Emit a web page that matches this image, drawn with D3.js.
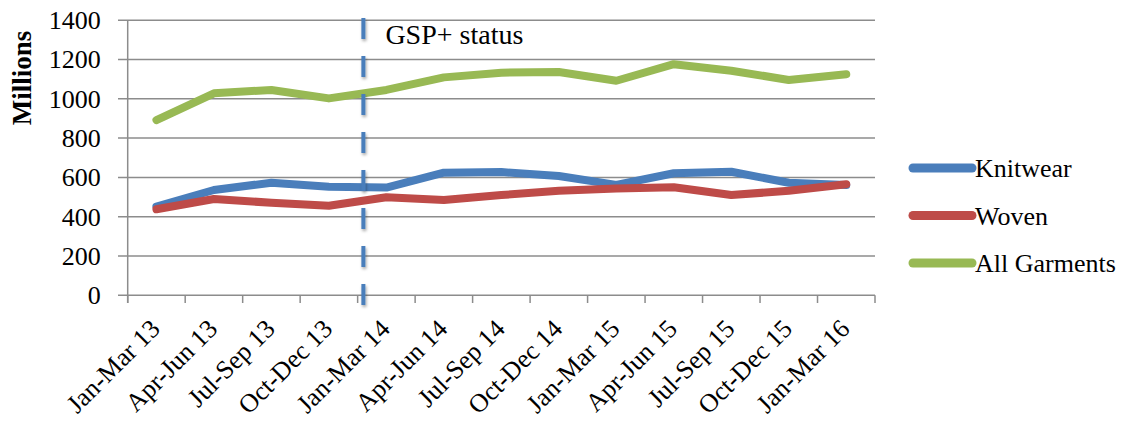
<!DOCTYPE html>
<html lang="en">
<head>
<meta charset="UTF-8">
<script src="https://cdnjs.cloudflare.com/ajax/libs/d3/7.8.5/d3.min.js"></script>
<style>
  html,body{margin:0;padding:0;background:#fff;}
  svg{display:block;font-family:'Liberation Serif',serif;}
  .grid line{stroke:#8c8c8c;stroke-width:1.5px;}
  .series{fill:none;stroke-width:8px;stroke-linejoin:round;stroke-linecap:round;}
</style>
</head>
<body>
<div id="chart"></div>
<script>
// quarters on the x axis
var quarters = ["Jan-Mar 13","Apr-Jun 13","Jul-Sep 13","Oct-Dec 13","Jan-Mar 14","Apr-Jun 14",
  "Jul-Sep 14","Oct-Dec 14","Jan-Mar 15","Apr-Jun 15","Jul-Sep 15","Oct-Dec 15","Jan-Mar 16"];

// values in millions
var knitwear    = [451, 536, 573, 553, 548, 624, 627, 607, 562, 621, 629, 573, 561];
var woven       = [438, 490, 471, 456, 499, 485, 510, 532, 543, 550, 510, 532, 565];
var allGarments = [892, 1028, 1045, 1002, 1045, 1109, 1133, 1136, 1092, 1176, 1143, 1096, 1125];

var yTicks = [0, 200, 400, 600, 800, 1000, 1200, 1400];
var seriesNames = ["Knitwear", "Woven", "All Garments"];
var gspIndex = 3.6; // GSP+ marker sits a bit after Oct-Dec 13

var width = 1125, height = 423;
var colors = ["#4a7ebb", "#be4b48", "#98b954"];
var data = [knitwear, woven, allGarments];

var svg = d3.select("#chart").append("svg")
  .attr("width", width)
  .attr("height", height);

var x = d3.scaleBand().domain(quarters).range([127.7, 875]).padding(0);
var y = d3.scaleLinear().domain([0, 1400]).range([295.3, 20.2]);
var xi = d3.scaleLinear().domain([0, quarters.length - 1])
  .range([x(quarters[0]) + x.bandwidth() / 2, x(quarters[quarters.length - 1]) + x.bandwidth() / 2]);

// gridlines + y labels
var grid = svg.append("g").attr("class", "grid");
grid.selectAll("line").data(yTicks).enter().append("line")
  .attr("x1", 118).attr("x2", 875)
  .attr("y1", function(d){ return y(d); })
  .attr("y2", function(d){ return y(d); });

svg.append("g")
  .attr("transform", "translate(127.7,0)")
  .call(d3.axisLeft(y).tickValues(yTicks).tickFormat(d3.format("d")).tickSize(0).tickPadding(27))
  .call(function(g){ g.select(".domain").remove(); })
  .selectAll("text")
  .attr("font-size", 26).attr("font-family", "Liberation Serif").attr("fill", "#000");

// y axis line
grid.append("line").attr("x1", 127.7).attr("x2", 127.7).attr("y1", y(1400)).attr("y2", 303);

// x tick marks on the band edges
var edges = quarters.map(function(q){ return x(q); }).concat([x.range()[1]]);
grid.selectAll(".xt").data(edges).enter().append("line")
  .attr("class", "xt")
  .attr("x1", function(d){ return d; }).attr("x2", function(d){ return d; })
  .attr("y1", y(0)).attr("y2", 303);

// x labels
var xAxis = svg.append("g")
  .attr("transform", "translate(0," + y(0) + ")")
  .call(d3.axisBottom(x).tickSize(0).tickPadding(0));
xAxis.select(".domain").remove();
xAxis.selectAll("text")
  .attr("font-size", 26).attr("font-family", "Liberation Serif").attr("fill", "#000")
  .attr("text-anchor", "end")
  .attr("dy", null)
  .attr("transform", "translate(5,35) rotate(-45)");

svg.append("text")
  .attr("transform", "translate(31,78) rotate(-90)")
  .attr("text-anchor", "middle")
  .attr("font-size", 27).attr("font-weight", "bold")
  .text("Millions");

// lines
var line = d3.line()
  .x(function(d, i){ return xi(i); })
  .y(function(d){ return y(d); });

svg.selectAll(".series").data(data).enter().append("path")
  .attr("class", "series")
  .attr("d", line)
  .attr("stroke", function(d, i){ return colors[i]; });

// GSP+ marker
var defs = svg.append("defs");
defs.append("filter").attr("id", "shadow")
  .attr("filterUnits", "userSpaceOnUse")
  .attr("x", 0).attr("y", 0).attr("width", width).attr("height", height)
  .append("feDropShadow")
  .attr("dx", 1).attr("dy", 2).attr("stdDeviation", 1.5)
  .attr("flood-color", "#000").attr("flood-opacity", 0.35);

svg.append("line")
  .attr("x1", xi(gspIndex)).attr("x2", xi(gspIndex))
  .attr("y1", 18).attr("y2", 307)
  .attr("stroke", colors[0]).attr("stroke-width", 4)
  .attr("stroke-dasharray", "21,17")
  .attr("filter", "url(#shadow)");

svg.append("text")
  .attr("x", xi(gspIndex) + 22).attr("y", 44)
  .attr("font-size", 28)
  .text("GSP+ status");

// legend
var legend = svg.selectAll(".legend").data(seriesNames).enter().append("g")
  .attr("class", "legend")
  .attr("transform", function(d, i){ return "translate(913," + (168 + i * 47.5) + ")"; });
legend.append("line")
  .attr("x1", 0).attr("x2", 59)
  .attr("stroke", function(d, i){ return colors[i]; })
  .attr("stroke-width", 9).attr("stroke-linecap", "round");
legend.append("text")
  .attr("x", 62).attr("dy", "0.35em")
  .attr("font-size", 26)
  .text(function(d){ return d; });
</script>
</body>
</html>
